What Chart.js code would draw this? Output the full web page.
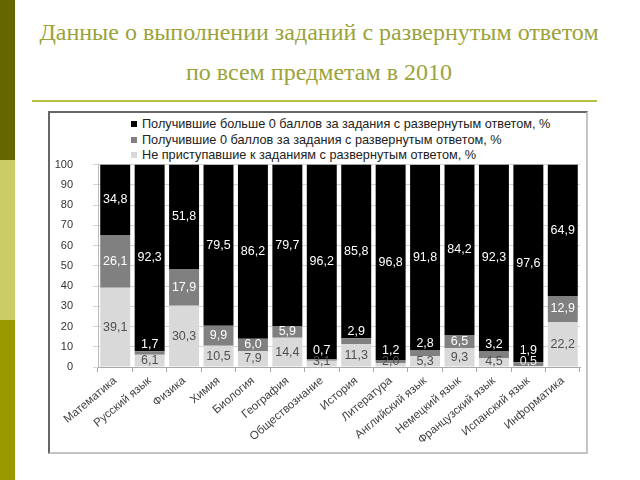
<!DOCTYPE html>
<html>
<head>
<meta charset="utf-8">
<script src="https://cdn.jsdelivr.net/npm/chart.js@4"></script>
<style>
  html, body { margin: 0; padding: 0; background: #fff; }
  #page { position: relative; width: 640px; height: 480px; overflow: hidden; background: #fff; }
  .stripe { position: absolute; left: 0; width: 15px; }
  #title { position: absolute; left: 0; top: 12px; width: 638px; text-align: center;
           font-family: "Liberation Serif", "DejaVu Serif", serif; font-size: 24px; line-height: 40px; color: #9aa33a; }
  #rule { position: absolute; left: 32px; top: 100px; width: 565px; height: 2px; background: #b5c047; }
  #frame { position: absolute; left: 48px; top: 111px; width: 536px; height: 339px;
           border-left: 2px solid #666; border-top: 2px solid #666; border-right: 2px solid #c4c4c4; border-bottom: 2px solid #c4c4c4; }
  #legend { position: absolute; left: 131px; top: 117px; font-family: "Liberation Sans", Arial, sans-serif; font-size: 12.7px; color: #222; }
  .li { height: 15.5px; line-height: 15.5px; white-space: nowrap; }
  .sw { display: inline-block; width: 6px; height: 6px; margin-right: 5px; vertical-align: 1px; }
  #wrap { position: absolute; left: 50px; top: 138px; width: 534px; height: 312px; }
</style>
</head>
<body>
<div id="page">
  <div class="stripe" style="top:0;height:160px;background:#666600"></div>
  <div class="stripe" style="top:160px;height:160px;background:#cccc66"></div>
  <div class="stripe" style="top:320px;height:160px;background:#999900"></div>
  <div id="title">Данные о выполнении заданий с развернутым ответом<br>по всем предметам в 2010</div>
  <div id="rule"></div>
  <div id="frame"></div>
  <div id="legend"></div>
  <div id="wrap"><canvas id="c" width="534" height="312"></canvas></div>
</div>
<script>
const categories = ["Математика","Русский язык","Физика","Химия","Биология","География","Обществознание","История","Литература","Английский язык","Немецкий язык","Французский язык","Испанский язык","Информатика"];
const seriesNames = ["Получившие больше 0 баллов за задания с развернутым ответом, %","Получившие 0 баллов за задания с развернутым ответом, %","Не приступавшие к заданиям с развернутым ответом, %"];
const above0 = [34.8,92.3,51.8,79.5,86.2,79.7,96.2,85.8,96.8,91.8,84.2,92.3,97.6,64.9];
const zero   = [26.1,1.7,17.9,9.9,6.0,5.9,0.7,2.9,1.2,2.8,6.5,3.2,1.9,12.9];
const notAttempted = [39.1,6.1,30.3,10.5,7.9,14.4,3.1,11.3,2.0,5.3,9.3,4.5,0.5,22.2];
const yTicks = [0,10,20,30,40,50,60,70,80,90,100];

const colors = ["#000000","#808080","#d9d9d9"];

const leg = document.getElementById('legend');
seriesNames.forEach((n,i)=>{
  const d = document.createElement('div'); d.className='li';
  const s = document.createElement('span'); s.className='sw'; s.style.background=colors[i];
  d.appendChild(s); d.appendChild(document.createTextNode(n)); leg.appendChild(d);
});

const fmt = v => v.toFixed(1).replace('.', ',');
const FONT = '"Liberation Sans", Arial, sans-serif';

const labelPlugin = {
  id: 'barLabels',
  afterDatasetsDraw(chart) {
    const ctx = chart.ctx;
    ctx.save();
    ctx.font = '12.5px ' + FONT;
    ctx.textAlign = 'center';
    ctx.textBaseline = 'middle';
    const mL = chart.getDatasetMeta(0), mG = chart.getDatasetMeta(1), mB = chart.getDatasetMeta(2);
    categories.forEach((c, j) => {
      const eL = mL.data[j];
      const lc = (eL.y + eL.base) / 2;
      const ly = Math.min(lc, eL.base - 5);
      ctx.fillStyle = notAttempted[j] < 1 ? '#eeeeee' : '#505050';
      ctx.fillText(fmt(notAttempted[j]), eL.x, ly);
      const eG = mG.data[j];
      const h = eG.base - eG.y;
      let gy;
      if (h >= 10) gy = (eG.y + eG.base) / 2;
      else gy = Math.min(eG.y - 7, ly - 11);
      ctx.fillStyle = '#ffffff';
      ctx.fillText(fmt(zero[j]), eG.x, gy);
      const eB = mB.data[j];
      ctx.fillStyle = '#ffffff';
      ctx.fillText(fmt(above0[j]), eB.x, (eB.y + eB.base) / 2);
    });
    ctx.restore();
  }
};

new Chart(document.getElementById('c'), {
  type: 'bar',
  data: {
    labels: categories,
    datasets: [
      { label: seriesNames[2], data: notAttempted, backgroundColor: colors[2] },
      { label: seriesNames[1], data: zero, backgroundColor: colors[1] },
      { label: seriesNames[0], data: above0, backgroundColor: colors[0] }
    ]
  },
  options: {
    responsive: false,
    animation: false,
    devicePixelRatio: 1,
    barPercentage: 0.87,
    categoryPercentage: 1.0,
    layout: { padding: { top: 7, right: 4, left: 0, bottom: 0 } },
    plugins: { legend: { display: false }, tooltip: { enabled: false } },
    scales: {
      x: {
        stacked: true,
        afterFit(s) { s.height = 83; },
        grid: { offset: true, drawOnChartArea: false, drawTicks: true, tickLength: 5, color: '#aaaaaa' },
        border: { color: '#aaaaaa' },
        ticks: { maxRotation: 40, minRotation: 40, autoSkip: false, padding: 2, color: '#404040', font: { family: FONT, size: 11.5 } }
      },
      y: {
        stacked: true,
        min: 0, max: 100,
        afterFit(s) { s.width = 48; },
        afterBuildTicks(s) { s.ticks = yTicks.map(v => ({ value: v })); },
        grid: { color: '#d4d4d4', tickLength: 5, drawTicks: true },
        border: { color: '#bbbbbb' },
        ticks: { padding: 20, color: '#333333', font: { family: FONT, size: 11 } }
      }
    }
  },
  plugins: [labelPlugin]
});
</script>
</body>
</html>
